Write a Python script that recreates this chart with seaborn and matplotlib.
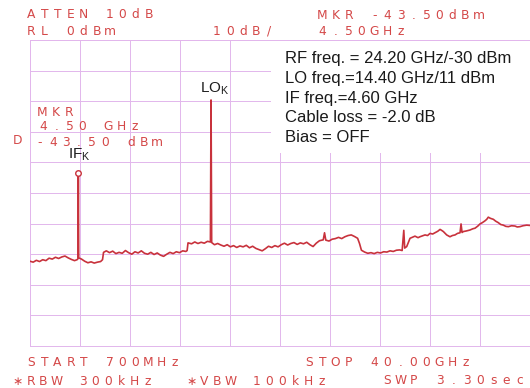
import matplotlib
matplotlib.use("Agg")
import matplotlib.pyplot as plt
import pandas as pd
import seaborn as sns
from matplotlib.patches import Rectangle

# Swept trace: frequency (GHz) and displayed level (dBm)
freq_ghz = [
    0.70, 0.95, 1.20, 1.45, 1.70, 1.95, 2.20, 2.45, 2.70, 2.95,
    3.20, 3.45, 3.70, 3.95, 4.20, 4.40, 4.47, 4.50, 4.53, 4.75,
    5.00, 5.25, 5.50, 5.75, 6.00, 6.25, 6.40, 6.48, 6.70, 6.95,
    7.20, 7.45, 7.70, 7.95, 8.20, 8.45, 8.70, 8.95, 9.20, 9.45,
    9.70, 9.95, 10.20, 10.45, 10.70, 10.95, 11.20, 11.45, 11.70, 11.95,
    12.20, 12.45, 12.70, 12.95, 13.05, 13.12, 13.40, 13.65, 13.90, 14.15,
    14.40, 14.65, 14.88, 14.93, 14.98, 15.20, 15.45, 15.70, 15.95, 16.20,
    16.45, 16.70, 16.95, 17.20, 17.45, 17.70, 17.95, 18.20, 18.45, 18.70,
    18.95, 19.20, 19.45, 19.70, 19.95, 20.20, 20.45, 20.70, 20.95, 21.20,
    21.45, 21.70, 21.95, 22.20, 22.45, 22.70, 22.95, 23.20, 23.45, 23.75,
    23.85, 23.95, 24.20, 24.45, 24.70, 24.95, 25.20, 25.45, 25.70, 25.95,
    26.20, 26.45, 26.60, 26.75, 27.00, 27.25, 27.50, 27.75, 28.00, 28.25,
    28.50, 28.75, 29.00, 29.25, 29.50, 29.75, 29.95, 30.08, 30.15, 30.31,
    30.57, 30.96, 31.20, 31.35, 31.55, 31.75, 31.95, 32.14, 32.35, 32.53,
    32.75, 32.93, 33.05, 33.19, 33.45, 33.71, 33.90, 34.11, 34.30, 34.50,
    34.58, 34.66, 34.76, 35.00, 35.28, 35.50, 35.68, 35.90, 36.07, 36.25,
    36.46, 36.60, 36.72, 36.90, 37.12, 37.30, 37.51, 37.70, 37.90, 38.10,
    38.30, 38.55, 38.82, 39.00, 39.21, 39.45, 39.74, 40.00,
]
level_dbm = [
    -72.3, -72.6, -72.0, -72.4, -71.8, -72.1, -71.3, -71.6, -71.0, -71.4,
    -70.9, -70.6, -71.2, -71.7, -72.1, -71.8, -71.5, -43.5, -71.2, -71.6,
    -72.3, -72.8, -72.5, -72.9, -72.6, -72.4, -71.8, -69.4, -68.9, -69.5,
    -69.0, -69.8, -69.4, -69.7, -68.8, -69.5, -70.0, -69.2, -69.6, -68.9,
    -69.7, -70.0, -69.4, -70.1, -69.6, -70.3, -70.7, -70.0, -69.4, -69.8,
    -69.2, -69.5, -68.9, -69.1, -68.8, -66.3, -66.6, -66.0, -66.5, -66.1,
    -66.4, -65.8, -66.0, -19.6, -66.2, -66.9, -66.5, -67.0, -67.4, -66.9,
    -67.6, -67.2, -67.8, -67.3, -67.6, -67.1, -67.9, -67.4, -68.1, -68.5,
    -68.9, -68.2, -67.4, -67.8, -67.2, -67.6, -66.9, -66.4, -67.0, -66.5,
    -66.2, -66.8, -66.3, -66.6, -66.1, -66.9, -67.5, -66.4, -65.6, -65.3,
    -63.0, -65.4, -65.7, -65.1, -64.9, -64.5, -64.9, -64.3, -63.9, -63.7,
    -64.2, -64.8, -66.5, -68.7, -69.3, -69.7, -69.5, -69.8, -69.4, -69.6,
    -69.2, -69.3, -68.9, -69.1, -68.7, -68.6, -68.8, -62.2, -68.0, -67.5,
    -64.8, -64.1, -64.6, -64.3, -64.0, -63.7, -63.9, -63.2, -63.4, -63.0,
    -62.5, -61.9, -62.2, -62.6, -63.7, -64.3, -63.9, -63.7, -63.2, -63.0,
    -60.1, -62.9, -62.6, -62.4, -62.1, -61.7, -61.5, -60.8, -60.1, -59.7,
    -59.1, -58.6, -57.9, -58.3, -58.6, -59.2, -59.7, -60.3, -60.5, -60.9,
    -61.0, -60.7, -60.8, -61.1, -61.0, -60.7, -60.5, -60.6,
]

# Analyzer settings
start_ghz, stop_ghz = 0.7, 40.0
ref_level_dbm, db_per_div, n_div = 0, 10, 10

# Marker on the IF product and the LO feed-through line
marker_freq_ghz, marker_level_dbm = 4.50, -43.50
lo_freq_ghz, lo_level_dbm = 14.93, -19.6

# Instrument annotations
header_left = ["ATTEN 10dB", "RL 0dBm"]
scale_text = "10dB/"
header_right = ["MKR -43.50dBm", "4.50GHz"]
marker_block = ["MKR", "4.50 GHz", "-43.50 dBm"]
footer_top = ["START 700MHz", "STOP 40.00GHz"]
footer_bottom = ["\u2217RBW 300kHz", "\u2217VBW 100kHz", "SWP 3.30sec"]

# Test conditions
conditions = [
    "RF freq. = 24.20 GHz/-30 dBm",
    "LO freq.=14.40 GHz/11 dBm",
    "IF freq.=4.60 GHz",
    "Cable loss = -2.0 dB",
    "Bias = OFF",
]

TRACE = "#c8323c"
INK_RED = "#d44848"
GRID = "#e2b6ec"

sns.set_theme(style="white")
plt.rcParams["font.family"] = ["Liberation Sans", "DejaVu Sans"]
plt.rcParams["mathtext.fontset"] = "custom"
plt.rcParams["mathtext.rm"] = "Liberation Sans"
plt.rcParams["mathtext.it"] = "Liberation Sans:italic"

W, H = 530, 388
fig = plt.figure(figsize=(W / 100, H / 100), dpi=100)
fig.patch.set_facecolor("white")


def fx(px):
    return px / W


def fy(py):
    return 1 - py / H


ax = fig.add_axes([fx(30), fy(346), 500 / W, 306 / H])
ax.set_facecolor("white")

df = pd.DataFrame({"freq": freq_ghz, "level": level_dbm})
sns.lineplot(data=df, x="freq", y="level", ax=ax, estimator=None, sort=False,
             color=TRACE, lw=1.2, zorder=3)
sns.scatterplot(x=[marker_freq_ghz], y=[marker_level_dbm], ax=ax, marker="o",
                s=16, facecolor="white", edgecolor=TRACE, linewidth=1.0, zorder=4)

bottom_dbm = ref_level_dbm - db_per_div * n_div
ax.set_xlim(start_ghz, stop_ghz)
ax.set_ylim(bottom_dbm, ref_level_dbm)
step = (stop_ghz - start_ghz) / n_div
ax.set_xticks([start_ghz + i * step for i in range(n_div + 1)])
ax.set_yticks([bottom_dbm + i * db_per_div for i in range(n_div + 1)])
ax.tick_params(length=0, labelbottom=False, labelleft=False)
ax.grid(True, color=GRID, lw=0.7)
ax.set_xlabel("")
ax.set_ylabel("")
for sp in ax.spines.values():
    sp.set_color(GRID)
    sp.set_linewidth(0.7)

# Peak labels
ax.annotate(r"LO$_{\mathrm{K}}$", xy=(lo_freq_ghz, lo_level_dbm), xytext=(-11, 7),
            textcoords="offset pixels", ha="left", va="baseline", fontsize=11,
            color="#1e1e1e")
ax.annotate(r"IF$_{\mathrm{K}}$", xy=(marker_freq_ghz, marker_level_dbm),
            xytext=(-10, 15), textcoords="offset pixels", ha="left", va="baseline",
            fontsize=11, color="#1e1e1e", zorder=6)


def plotter_text(x_px, y_px, s, pitch=13.0, size=8.8):
    """Fixed-pitch screen lettering: one glyph per character cell."""
    for i, ch in enumerate(s):
        if ch == " ":
            continue
        fig.text(fx(x_px + i * pitch), fy(y_px), ch, ha="center", va="baseline",
                 fontsize=size, color=INK_RED, family="DejaVu Sans", zorder=5)


plotter_text(31.5, 18, header_left[0])
plotter_text(31.5, 35, header_left[1])
plotter_text(217, 35, scale_text)
plotter_text(322.5, 19, header_right[0])
plotter_text(322.5, 35, header_right[1])
plotter_text(42.5, 116, marker_block[0])
plotter_text(43.5, 130, marker_block[1])
plotter_text(40, 146.5, marker_block[2])
plotter_text(18, 144, "D")
plotter_text(31.5, 366.5, footer_top[0])
plotter_text(309.5, 366.5, footer_top[1])
plotter_text(17.5, 385, footer_bottom[0])
plotter_text(191.5, 385, footer_bottom[1])
plotter_text(387.5, 384, footer_bottom[2], pitch=13.2)

# Test-condition panel
fig.add_artist(Rectangle((fx(271), fy(153)), 259 / W, 112 / H,
                         transform=fig.transFigure, facecolor="white",
                         edgecolor="none", zorder=3))
for i, line in enumerate(conditions):
    fig.text(fx(285), fy(62.7 + i * 19.9), line, ha="left", va="baseline",
             fontsize=12, color="#1a1a1a", zorder=4)

fig.savefig("out.png", dpi=100)
